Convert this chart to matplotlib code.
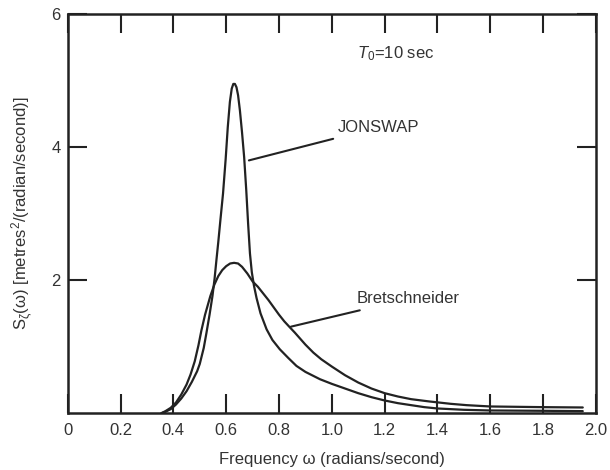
import matplotlib
matplotlib.use("Agg")
import matplotlib.pyplot as plt
from matplotlib.ticker import FixedLocator, FixedFormatter

plt.rcParams['font.family'] = ['Liberation Sans', 'DejaVu Sans']
plt.rcParams['mathtext.fontset'] = 'custom'
plt.rcParams['mathtext.rm'] = 'Liberation Sans'
plt.rcParams['mathtext.it'] = 'Liberation Sans:italic'

# ---- data ----
jonswap_w = [0.355, 0.37, 0.39, 0.41, 0.43, 0.45, 0.47, 0.49, 0.50, 0.515,
             0.525, 0.537, 0.548, 0.556, 0.563, 0.570, 0.578, 0.588, 0.598, 0.606,
             0.614, 0.621, 0.627, 0.633, 0.639, 0.645, 0.652, 0.660, 0.668, 0.676,
             0.683, 0.690, 0.697, 0.705, 0.715, 0.730, 0.753, 0.775, 0.803, 0.835,
             0.866, 0.90, 0.955, 1.00, 1.05, 1.10, 1.15, 1.20, 1.25, 1.30,
             1.35, 1.40, 1.50, 1.60, 1.80, 1.95]
jonswap_s = [0.0, 0.02, 0.06, 0.13, 0.22, 0.33, 0.47, 0.63, 0.74, 0.98,
             1.20, 1.48, 1.76, 2.02, 2.30, 2.57, 2.90, 3.30, 3.82, 4.30,
             4.68, 4.88, 4.95, 4.95, 4.90, 4.78, 4.55, 4.22, 3.85, 3.35,
             2.85, 2.40, 2.12, 1.92, 1.73, 1.50, 1.26, 1.10, 0.96, 0.83,
             0.71, 0.62, 0.51, 0.44, 0.37, 0.30, 0.24, 0.19, 0.15, 0.12,
             0.09, 0.07, 0.05, 0.04, 0.035, 0.03]

bret_w = [0.355, 0.37, 0.39, 0.41, 0.43, 0.45, 0.465, 0.481, 0.495, 0.506,
          0.52, 0.54, 0.555, 0.57, 0.585, 0.60, 0.615, 0.63, 0.645, 0.66,
          0.68, 0.70, 0.72, 0.74, 0.76, 0.78, 0.80, 0.82, 0.841, 0.86,
          0.88, 0.90, 0.93, 0.96, 1.00, 1.05, 1.10, 1.15, 1.20, 1.25,
          1.30, 1.37, 1.45, 1.51, 1.60, 1.80, 1.95]
bret_s = [0.0, 0.03, 0.08, 0.16, 0.28, 0.43, 0.58, 0.78, 1.02, 1.24,
          1.48, 1.76, 1.93, 2.06, 2.15, 2.21, 2.25, 2.26, 2.25, 2.20,
          2.10, 1.98, 1.90, 1.80, 1.70, 1.59, 1.48, 1.38, 1.29, 1.21,
          1.12, 1.03, 0.91, 0.81, 0.70, 0.57, 0.46, 0.37, 0.30, 0.25,
          0.21, 0.175, 0.14, 0.12, 0.10, 0.09, 0.085]

x_ticks = [0.0, 0.2, 0.4, 0.6, 0.8, 1.0, 1.2, 1.4, 1.6, 1.8, 2.0]
x_tick_labels = ['0', '0.2', '0.4', '0.6', '0.8', '1.0', '1.2', '1.4', '1.6', '1.8', '2.0']
y_ticks = [2, 4, 6]
y_tick_labels = ['2', '4', '6']

ink = '#222222'
txt = '#333333'

fig = plt.figure(figsize=(6.1, 4.7), dpi=100)
ax = fig.add_axes([0.111, 0.121, 0.866, 0.849])

ax.plot(jonswap_w, jonswap_s, color=ink, lw=1.6, solid_joinstyle='round',
        solid_capstyle='round')
ax.plot(bret_w, bret_s, color=ink, lw=1.6, solid_joinstyle='round',
        solid_capstyle='round')

ax.set_xlim(0, 2.0)
ax.set_ylim(0, 6)
ax.xaxis.set_major_locator(FixedLocator(x_ticks))
ax.xaxis.set_major_formatter(FixedFormatter(x_tick_labels))
ax.yaxis.set_major_locator(FixedLocator(y_ticks))
ax.yaxis.set_major_formatter(FixedFormatter(y_tick_labels))
ax.tick_params(direction='in', top=True, right=True, length=13.5, width=1.5,
               color=ink, labelsize=12, labelcolor=txt)
ax.tick_params(axis='x', pad=7)
ax.tick_params(axis='y', pad=5)
for sp in ax.spines.values():
    sp.set_linewidth(1.8)
    sp.set_color(ink)

ax.set_xlabel('Frequency ω (radians/second)', fontsize=12, color=txt, labelpad=10)
ax.set_ylabel(r'$\mathrm{S_\zeta(\omega)}$ [metres$^\mathrm{2}$/(radian/second)]',
              fontsize=12, color=txt, labelpad=12)

ax.text(1.095, 5.41, r'$T_0$=10 sec', fontsize=12, color=txt, va='center', ha='left')

ax.annotate('JONSWAP', xy=(0.686, 3.80), xytext=(1.023, 4.30),
            fontsize=12, color=txt, va='center', ha='left',
            arrowprops=dict(arrowstyle='-', color=ink, lw=1.5,
                            shrinkA=4, shrinkB=0))
ax.annotate('Bretschneider', xy=(0.845, 1.30), xytext=(1.095, 1.72),
            fontsize=12, color=txt, va='center', ha='left',
            arrowprops=dict(arrowstyle='-', color=ink, lw=1.5,
                            shrinkA=4, shrinkB=0))

fig.savefig('out.png', dpi=100)
